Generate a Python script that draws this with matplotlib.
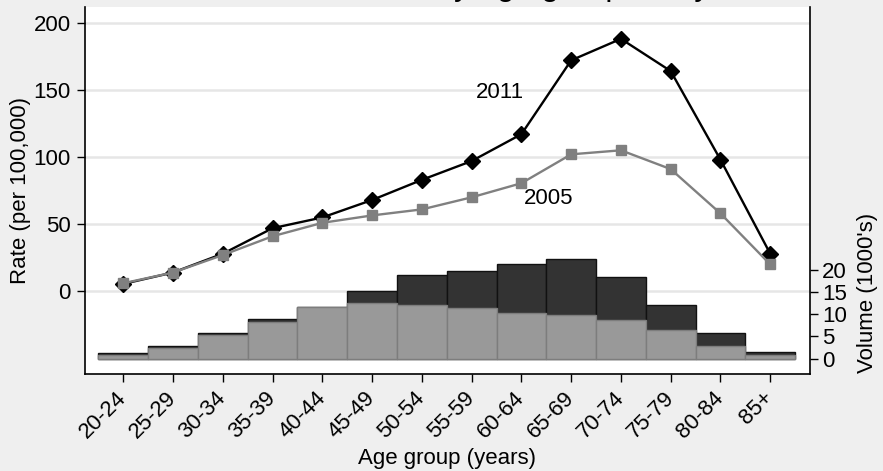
import matplotlib
matplotlib.use("Agg")
import matplotlib.pyplot as plt
import numpy as np

plt.rcParams['font.family'] = ['Liberation Sans', 'DejaVu Sans']

# Age groups and series
age_groups = ["20-24", "25-29", "30-34", "35-39", "40-44", "45-49", "50-54",
              "55-59", "60-64", "65-69", "70-74", "75-79", "80-84", "85+"]
rate_2011 = [5.5, 14, 28, 47, 55, 68, 83, 97, 117, 172, 188, 164, 98, 28]
rate_2005 = [6, 14, 27, 41, 51, 56.5, 61, 70, 80.5, 102, 105, 91, 58, 20]
volume_2011 = [1.2, 2.8, 5.7, 9.0, 11.6, 15.2, 19.0, 19.8, 21.4, 22.4, 18.4, 12.2, 5.7, 1.4]
volume_2005 = [0.8, 2.4, 5.3, 8.3, 11.7, 12.5, 12.0, 11.4, 10.3, 9.9, 8.75, 6.5, 2.8, 0.8]
rate_ticks = [0, 50, 100, 150, 200]
volume_ticks = [0, 5, 10, 15, 20]

BG = "#efefef"
FS = 16
x = np.arange(len(age_groups))

fig = plt.figure(figsize=(8.83, 4.71), dpi=100, facecolor=BG)
ax = fig.add_axes([0.0957, 0.2059, 0.8211, 0.7792])
ax.set_facecolor("white")
ax.set_xlim(-0.78, 13.79)
ax.set_ylim(-61.6, 211.7)
ax.set_yticks(rate_ticks)
ax.set_yticklabels([str(t) for t in rate_ticks])
ax.grid(axis="y", color="#e6e6e6", linewidth=1.8)
ax.set_axisbelow(True)
ax.set_xticks(x)
ax.set_xticklabels(age_groups, rotation=45, ha="right", va="center",
                   rotation_mode="anchor", fontsize=FS)
ax.tick_params(axis="both", direction="out", length=6, width=1, colors="black",
               labelsize=FS)
ax.tick_params(axis="y", pad=4)
ax.tick_params(axis="x", pad=9)
for s in ("top", "right"):
    ax.spines[s].set_visible(False)
for s in ("left", "bottom"):
    ax.spines[s].set_linewidth(1.2)
ax.set_ylabel("Rate (per 100,000)", fontsize=FS, labelpad=2)
ax.set_xlabel("Age group (years)", fontsize=FS, labelpad=4)

# Volume bars on the secondary axis
axv = ax.twinx()
axv.set_ylim(-3.5, 79.5)
axv.set_yticks(volume_ticks)
axv.tick_params(axis="y", direction="out", length=6, width=1, labelsize=FS, pad=3)
for s in ("top", "left", "bottom"):
    axv.spines[s].set_visible(False)
axv.spines["right"].set_linewidth(1.2)
axv.bar(x, volume_2011, width=1.0, color="#333333", edgecolor="#111111", linewidth=1)
axv.bar(x, volume_2005, width=1.0, color="#999999", edgecolor="#7d7d7d", linewidth=1)
axv.set_ylabel("Volume (1000's)", fontsize=FS)
axv.yaxis.set_label_coords(1.066, 0.22)

# Rate lines drawn above the bars
axl = ax.twinx()
axl.set_ylim(ax.get_ylim())
axl.set_yticks([])
axl.patch.set_visible(False)
for s in axl.spines.values():
    s.set_visible(False)
axl.plot(x, rate_2011, color="black", linewidth=1.7, marker="D", markersize=8.5,
         markerfacecolor="black", markeredgecolor="black")
axl.plot(x, rate_2005, color="#808080", linewidth=1.7, marker="s", markersize=7.5,
         markerfacecolor="#808080", markeredgecolor="#808080")
axl.text(7.08, 148, "2011", fontsize=FS, ha="left", va="center")
axl.text(8.05, 69, "2005", fontsize=FS, ha="left", va="center")

fig.text(756.5 / 883, 1 + 5 / 471, "Incidence rate and volume, by age group and year",
         fontsize=23, ha="right", va="baseline")

fig.savefig("out.png", dpi=100, facecolor=BG)
